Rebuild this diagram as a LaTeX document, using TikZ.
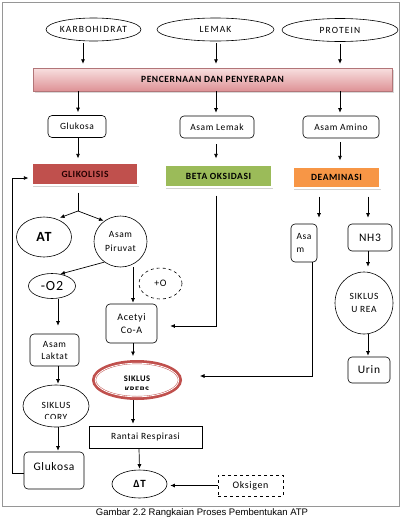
\documentclass[tikz,border=0pt]{standalone}
\usepackage{fontspec}
\setmainfont{Carlito}
\newfontfamily\spaced[LetterSpace=6]{Carlito}
\newfontfamily\wide[LetterSpace=12]{Carlito}
\newfontfamily\capfont{Liberation Sans}
\usetikzlibrary{shapes.geometric,arrows.meta,shadows}
\definecolor{kred}{RGB}{192,80,77}
\definecolor{glired}{RGB}{192,80,77}
\definecolor{betagreen}{RGB}{155,187,89}
\definecolor{deaorange}{RGB}{247,150,70}
\definecolor{pinktop}{RGB}{248,224,224}
\definecolor{pinkbot}{RGB}{222,146,150}
\definecolor{framegray}{RGB}{150,150,150}
\begin{document}
\begin{tikzpicture}[x=1pt,y=-1pt,
  ell/.style={draw,ellipse,inner sep=0pt,line width=0.6pt,align=center},
  rbox/.style={draw,rounded corners=4pt,inner sep=0pt,align=center,line width=0.6pt},
  colbox/.style={draw=white,line width=1.2pt,inner sep=0pt,font=\spaced\bfseries\fontsize{9.5}{11}\selectfont,
     drop shadow={opacity=0.35,shadow xshift=1.2pt,shadow yshift=-1.5pt}},
  arr/.style={-{Latex[length=4.5pt,width=4pt]},line width=0.7pt},
  ln/.style={line width=0.7pt},
  font=\spaced\fontsize{9.5}{12}\selectfont
]
\useasboundingbox (0,0) rectangle (404,517);
\fill[white] (0,0) rectangle (404,517);
\draw[framegray, line width=0.8pt] (2,2) rectangle (399,506);

% top ellipses
\node[ell, minimum width=91pt, minimum height=23pt, font=\wide\fontsize{9.5}{11}\selectfont] (karbo) at (93.5,29.5) {KARBOHIDRAT};
\node[ell, minimum width=117pt, minimum height=23pt, font=\wide\fontsize{9.5}{11}\selectfont] (lemak) at (215.5,29.5) {LEMAK};
\node[ell, minimum width=116pt, minimum height=23pt, font=\wide\fontsize{9.5}{11}\selectfont] (protein) at (340,30) {PROTEIN};

% digestion bar
\node[draw=pinkbot!80!black, line width=0.4pt, top color=pinktop, bottom color=pinkbot,
      minimum width=359pt, minimum height=23pt, inner sep=0pt,
      font=\spaced\bfseries\fontsize{9.5}{11}\selectfont,
      drop shadow={opacity=0.3,shadow xshift=1.5pt,shadow yshift=-2pt}] (pen) at (212.5,79.5) {PENCERNAAN DAN PENYERAPAN};

\draw[arr] ([xshift=-10.5pt,yshift=-2pt]karbo.south) -- ([xshift=-10.5pt,yshift=4pt]karbo.south |- pen.north);
\draw[arr] ([xshift=0.5pt,yshift=-2pt]lemak.south) -- ([xshift=0.5pt,yshift=4pt]lemak.south |- pen.north);
\draw[arr] ([yshift=-2pt]protein.south) -- ([yshift=4pt]protein.south |- pen.north);

% second row boxes
\node[rbox, minimum width=58pt, minimum height=22pt] (glu1) at (77,126.5) {Glukosa};
\node[rbox, minimum width=74pt, minimum height=22pt] (alemak) at (217,127) {Asam Lemak};
\node[rbox, minimum width=76pt, minimum height=22pt] (aamino) at (341,127) {Asam Amino};

\draw[arr] ([xshift=1pt]glu1.north |- pen.south) -- ([xshift=1pt,yshift=3pt]glu1.north);
\draw[arr] ([xshift=-1pt]alemak.north |- pen.south) -- ([xshift=-1pt,yshift=3pt]alemak.north);
\draw[arr] ([xshift=-1pt]aamino.north |- pen.south) -- ([xshift=-1pt,yshift=3pt]aamino.north);

% coloured process boxes
\node[colbox, fill=glired, minimum width=106pt, minimum height=22pt, text=black!85!red] (gli) at (85,174) {GLIKOLISIS};
\node[colbox, fill=betagreen, minimum width=107pt, minimum height=22pt] (beta) at (218.5,176) {BETA OKSIDASI};
\node[colbox, fill=deaorange, minimum width=87pt, minimum height=21pt] (dea) at (336.5,177.5) {DEAMINASI};

\draw[arr] ([xshift=1pt]glu1.south) -- ([xshift=-7pt,yshift=4pt]gli.north);
\draw[arr] ([xshift=-1pt,yshift=-6pt]alemak.south) -- ([xshift=-2.5pt,yshift=6pt]beta.north);
\draw[arr] ([xshift=-1pt,yshift=-4pt]aamino.south) -- ([xshift=3.5pt,yshift=6pt]dea.north);

% glycolysis branch
\node[ell, minimum width=55pt, minimum height=40pt, font=\spaced\bfseries\fontsize{14}{16}\selectfont] (at) at (44,237) {AT};
\node[ell, minimum width=53pt, minimum height=51pt, font=\spaced\fontsize{9.5}{14}\selectfont] (piru) at (120.5,241.5) {Asam\\Piruvat};
\coordinate (split) at (78,211);
\draw[ln] ([xshift=-7pt,yshift=-7pt]gli.south) -- (split);
\draw[arr] (split) -- ([xshift=16pt,yshift=-1pt]at.north);
\draw[arr] (split) -- ([xshift=-17pt,yshift=-5pt]piru.north);

\node[ell, minimum width=47pt, minimum height=25pt, font=\spaced\fontsize{14}{16}\selectfont] (o2) at (52,286) {-O2};
\node[ell, dashed, minimum width=43pt, minimum height=31pt, font=\spaced\fontsize{10}{12}\selectfont] (plo) at (160.5,283.5) {+O};
\draw[arr] (piru.232) -- (o2.55);

\node[rbox, minimum width=51pt, minimum height=39pt, font=\spaced\fontsize{10}{13}\selectfont] (acet) at (131.5,323.5) {Acetyi\\Co-A};
\draw[arr] ([xshift=1.5pt]acet.north |- piru.south) -- ([xshift=1.5pt,yshift=1pt]acet.north);

\coordinate (bcorner) at ([xshift=-2.5pt]beta.south |- acet.east);
\draw[arr] ([xshift=-2.5pt,yshift=-8pt]beta.south) -- ([yshift=-2.5pt]bcorner) -- ([xshift=13pt,yshift=-2.5pt]acet.east);

\node[rbox, minimum width=49pt, minimum height=32pt, font=\spaced\fontsize{9.5}{12}\selectfont] (lak) at (54.5,350) {Asam\\Laktat};
\draw[arr] ([xshift=6pt]o2.south) -- ([xshift=3.5pt,yshift=8pt]lak.north);

% Krebs
\node[ellipse, draw=kred, line width=4pt, minimum width=86pt, minimum height=36pt, inner sep=0pt] (krebs) at (137,380) {};
\draw[white, line width=0.8pt] (krebs.center) ellipse (41.8pt and 16.8pt);
\begin{scope}
  \clip (90,360) rectangle (185,389.3);
  \node[align=center, font=\spaced\bfseries\fontsize{8.5}{11}\selectfont] (krebstxt) at (137,384) {SIKLUS\\KREBS};
\end{scope}
\draw[arr] ([xshift=1.5pt]acet.south) -- ([xshift=-4pt,yshift=4pt]krebs.north);

\node[draw, line width=0.6pt, minimum width=113pt, minimum height=22pt, inner sep=0pt] (rant) at (145.5,437) {Rantai Respirasi};
\draw[arr] ([xshift=-4pt]krebs.south) -- ([xshift=-12.5pt,yshift=2pt]rant.north);

\node[ell, minimum width=55pt, minimum height=28pt, font=\spaced\bfseries\fontsize{11}{13}\selectfont] (dt) at (139.5,484) {ΔT};
\draw[arr] ([xshift=-6.5pt]rant.south) -- ([yshift=1pt]dt.north);

\node[draw, dashed, line width=0.6pt, minimum width=65pt, minimum height=21pt, inner sep=0pt, font=\spaced\fontsize{10}{12}\selectfont] (oks) at (250.5,485.5) {Oksigen};
\draw[arr] (oks.west) -- ([xshift=3pt]dt.east |- oks.west);

% Cori cycle
\node[ell, minimum width=66pt, minimum height=42pt] (cory) at (56,406) {};
\begin{scope}
  \clip (20,380) rectangle (95,418);
  \node[align=center, font=\spaced\fontsize{9.5}{12}\selectfont] (corytxt) at (56,411.5) {SIKLUS\\CORY};
\end{scope}
\draw[arr] ([xshift=3.5pt]lak.south) -- ([xshift=2pt,yshift=1pt]cory.north);

\node[rbox, minimum width=60pt, minimum height=37pt] (glu2) at (54,470.5) {};
\node[font=\spaced\fontsize{11.5}{13}\selectfont] (glu2txt) at (54,467) {Glukosa};
\draw[arr] ([xshift=2pt]cory.south) -- ([xshift=4pt,yshift=1pt]glu2.north);

\coordinate (fb1) at (12,473);
\coordinate (fb2) at (12,178);
\draw[ln] ([yshift=-2.5pt]glu2.west) -- (fb1) -- (fb2);
\draw[arr] (fb2) -- ([xshift=-3pt,yshift=-4pt]gli.west);

% deamination branch
\node[rbox, minimum width=26pt, minimum height=38pt, font=\spaced\fontsize{9.5}{13}\selectfont, align=left] (asam) at (304,243) {Asa\\m};
\node[rbox, minimum width=44pt, minimum height=27pt, font=\spaced\fontsize{11.5}{13}\selectfont] (nh3) at (370,237.5) {NH3};
\draw[arr] ([xshift=-17.5pt,yshift=-8pt]dea.south) -- ([xshift=15pt,yshift=6pt]asam.north);
\draw[arr] ([xshift=31.5pt,yshift=-8pt]dea.south) -- ([xshift=-2pt,yshift=6pt]nh3.north);

\node[ell, minimum width=58pt, minimum height=62pt, font=\spaced\fontsize{9.5}{13}\selectfont] (urea) at (364,303) {SIKLUS\\U REA};
\draw[arr] ([xshift=-2pt]nh3.south) -- ([xshift=4pt,yshift=5pt]urea.north);
\node[rbox, minimum width=42pt, minimum height=26pt, font=\spaced\fontsize{11.5}{13}\selectfont] (urin) at (369,370) {Urin};
\draw[arr] ([xshift=4pt]urea.south) -- ([xshift=-1pt,yshift=1pt]urin.north);

\coordinate (acorner) at ([xshift=8pt]asam.south |- krebs.east);
\draw[arr] ([xshift=8pt]asam.south) -- ([yshift=4pt]acorner) -- ([xshift=18pt,yshift=4pt]krebs.east);

% caption
\node[font=\capfont\fontsize{9.5}{11}\selectfont] (cap) at (202,513.5) {Gambar 2.2 Rangkaian Proses Pembentukan ATP};
\end{tikzpicture}
\end{document}
